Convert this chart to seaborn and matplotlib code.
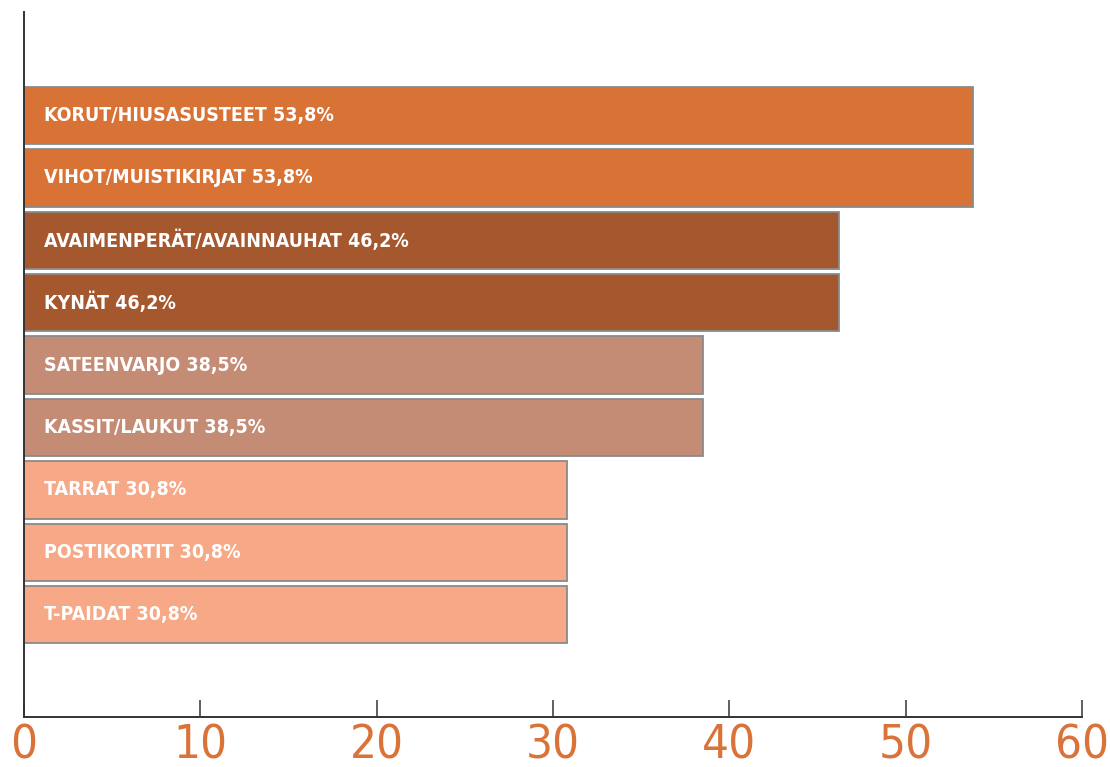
import matplotlib
matplotlib.use("Agg")
import matplotlib.pyplot as plt
import seaborn as sns
import pandas as pd

categories = ["KORUT/HIUSASUSTEET", "VIHOT/MUISTIKIRJAT", "AVAIMENPERÄT/AVAINNAUHAT",
              "KYNÄT", "SATEENVARJO", "KASSIT/LAUKUT", "TARRAT", "POSTIKORTIT", "T-PAIDAT"]
values = [53.8, 53.8, 46.2, 46.2, 38.5, 38.5, 30.8, 30.8, 30.8]
bar_colors = ["#D97335", "#D97335", "#A5572E", "#A5572E", "#C48B75", "#C48B75",
              "#F7A886", "#F7A886", "#F7A886"]
x_ticks = [0, 10, 20, 30, 40, 50, 60]

sns.set_theme(style="white")
plt.rcParams["font.family"] = ["DejaVu Sans"]

df = pd.DataFrame({"cat": categories, "val": values})

fig = plt.figure(figsize=(11.1, 7.67), dpi=100)
ax = fig.add_axes([24 / 1110, 1 - 717 / 767, (1082 - 24) / 1110, (717 - 12) / 767])

sns.barplot(data=df, x="val", y="cat", hue="cat", palette=bar_colors, orient="h",
            width=0.92, dodge=False, legend=False, ax=ax, saturation=1,
            edgecolor="#8a8a8a", linewidth=1.3)

for i, (c, v) in enumerate(zip(categories, values)):
    lbl = f"{c} {v:.1f}%".replace(".", ",")
    ax.text(1.15, i, lbl, color="white", fontsize=14, fontweight="bold",
            fontstretch="condensed", va="center", ha="left")

ax.set_xlim(0, 60)
ax.set_ylim(9.64, -1.66)
ax.set_xticks(x_ticks)
ax.set_xticklabels([str(t) for t in x_ticks])
ax.set_yticks([])
ax.set_xlabel("")
ax.set_ylabel("")
for s in ["top", "right"]:
    ax.spines[s].set_visible(False)
for s in ["left", "bottom"]:
    ax.spines[s].set_color("#333333")
    ax.spines[s].set_linewidth(1.4)
ax.tick_params(axis="x", direction="in", length=12, width=1.2, color="#444444",
               labelsize=34, labelcolor="#D9733A", pad=5, bottom=True)
for t in ax.get_xticklabels():
    t.set_fontstretch("condensed")
    t.set_fontweight("light")

fig.savefig("out.png", dpi=100)
